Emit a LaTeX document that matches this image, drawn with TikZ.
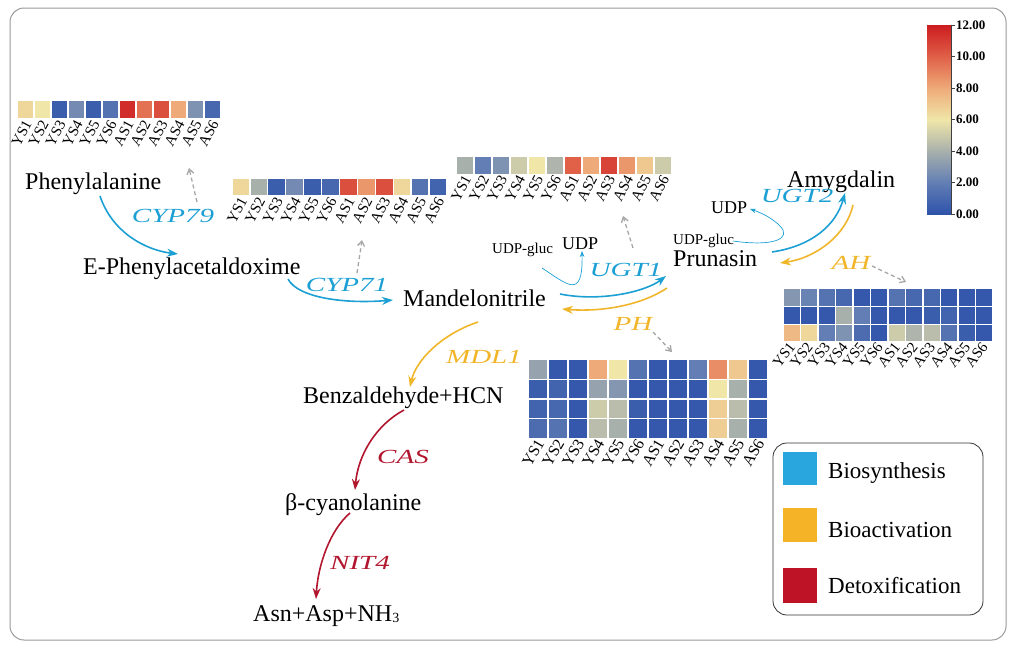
\documentclass[tikz,border=0pt]{standalone}
\usepackage{fontspec}
\setmainfont{Liberation Serif}
\usepackage{graphicx}
\usetikzlibrary{arrows.meta}
\definecolor{hm0}{RGB}{45,82,170}
\definecolor{hm1}{RGB}{98,126,180}
\definecolor{hm2}{RGB}{168,176,172}
\definecolor{hm3}{RGB}{240,230,168}
\definecolor{hm4}{RGB}{238,170,120}
\definecolor{hm5}{RGB}{224,96,72}
\definecolor{hm6}{RGB}{204,28,32}
\definecolor{cblue}{RGB}{28,160,212}
\definecolor{corange}{RGB}{241,181,42}
\definecolor{cred}{RGB}{178,22,46}
\definecolor{lblue}{RGB}{41,166,222}
\definecolor{lorange}{RGB}{245,180,40}
\definecolor{lred}{RGB}{190,18,38}
\newcommand\enzt[1]{\scalebox{1.45}[1]{\itshape #1}}
\newcommand\hrow[5]{%
  \foreach \v [count=\i from 0] in {#5}{%
    \pgfmathtruncatemacro\seg{min(floor(\v/2),5)}%
    \pgfmathtruncatemacro\nxt{\seg+1}%
    \pgfmathtruncatemacro\pct{round((\v-2*\seg)*50)}%
    \fill[hm\nxt!\pct!hm\seg, draw=white, line width=1.2pt] ({#1+\i*#3},#2) rectangle ++(#3,#4);}}
\newcommand\hlabels[6]{%
  \foreach \t [count=\i from 0] in {YS1,YS2,YS3,YS4,YS5,YS6,AS1,AS2,AS3,AS4,AS5,AS6}
    \node[lab, rotate=#5, font=\fontsize{#6}{#6}\selectfont] (#1-\i) at ({#2+(\i+0.5)*#4+2.5},{#3+2}) {\t};}
\tikzset{
  lab/.style={inner sep=0pt, anchor=east},
  enz/.style={inner sep=0pt, font=\fontsize{20}{22}\selectfont},
  met/.style={inner sep=0pt, font=\fontsize{24}{28}\selectfont, anchor=base west},
  small/.style={inner sep=0pt, anchor=base west},
  bio/.style={draw=cblue, line width=1.6pt, -{Stealth[length=11pt,width=8pt]}},
  act/.style={draw=corange, line width=1.6pt, -{Stealth[length=11pt,width=8pt]}},
  det/.style={draw=cred, line width=1.6pt, -{Stealth[length=11pt,width=8pt]}},
  side/.style={draw=cblue, line width=0.7pt, -{Stealth[length=6pt,width=4.5pt]}},
  pointer/.style={draw=black!35, dash pattern=on 4pt off 3pt, line width=1.3pt, -{Straight Barb[length=5pt,width=7pt]}},
  legtxt/.style={inner sep=0pt, anchor=base west, font=\fontsize{23}{26}\selectfont},
}
\begin{document}
\begin{tikzpicture}[x=1pt,y=-1pt]
\useasboundingbox (0,0) rectangle (1018,649);
\draw[black!40, line width=1pt, rounded corners=14pt] (10,8) rectangle (1006,640);

% heatmaps
\hrow{17}{100}{17}{19}{6.5,6,0.5,2.5,0.5,1.5,11.5,9.5,10.5,8,2.8,1}
\hlabels{la}{17}{119}{17}{62}{15}
\hrow{232}{178}{17.9}{18}{6.5,4,0.5,2.5,0.5,1,10.5,8.5,10.5,6.5,1.5,0.8}
\hlabels{lb}{232}{196}{17.9}{62}{15}
\hrow{456}{156}{18}{18.3}{4,2,2.8,5,6,4.2,10,8,10.8,8.5,7,5}
\hlabels{lc}{456}{174.3}{18}{62}{15}
\hrow{783}{288.5}{17.5}{17.8}{3,2.2,1.5,1,0.3,0.3,1.5,1,1,0.3,0.3,0.3}
\hrow{783}{306.3}{17.5}{17.8}{0.3,0.3,0.3,4,2,0.3,0.3,0.3,0.5,0.8,0.3,0.3}
\hrow{783}{324.1}{17.5}{17.8}{7.5,6.5,2,2.8,1.2,0.3,5,4.2,4.5,1.5,0.5,0.3}
\hlabels{ld}{781}{342}{17.5}{52}{15}
\hrow{528}{359.5}{20}{19.75}{3.5,0.3,0.3,8,6,1.5,0.3,0.3,2,8.8,7,0.3}
\hrow{528}{379.25}{20}{19.75}{0.5,0.8,0.3,3.5,3,0.3,0.3,0.3,0.3,6,4,0.3}
\hrow{528}{399}{20}{19.75}{0.8,1,0.3,5,4.5,0.5,0.3,0.3,0.3,6.8,4.5,0.3}
\hrow{528}{418.75}{20}{19.75}{1.2,1.5,0.3,4.5,4,0.3,0.3,0.3,0.3,6.8,4,0.3}
\hlabels{le}{528}{438.5}{20}{60}{16}

% colour bar
\foreach \k in {0,...,5}{%
  \pgfmathtruncatemacro\kk{\k+1}%
  \shade[bottom color=hm\k, top color=hm\kk] (927,{214-\k*31.5+0.3}) rectangle (951,{214-(\k+1)*31.5});}
\draw[black!75, line width=0.8pt] (951,25) -- (951,214);
\foreach \v/\t in {0/0.00,2/2.00,4/4.00,6/6.00,8/8.00,10/10.00,12/12.00}{%
  \draw[black!75, line width=0.8pt] (951,{214-\v*15.75}) -- (955,{214-\v*15.75});
  \node[inner sep=0pt, anchor=west, font=\fontsize{13}{13}\selectfont\bfseries] (cb\v) at (956,{214-\v*15.75}) {\t};}

% metabolites
\node[met] (phe) at (25,189) {Phenylalanine};
\node[met] (epa) at (83,274) {E-Phenylacetaldoxime};
\node[met] (man) at (403,306) {Mandelonitrile};
\node[met] (ben) at (303,403) {Benzaldehyde+HCN};
\node[met] (cya) at (285,510) {β-cyanolanine};
\node[met] (asn) at (253,621) {Asn+Asp+NH\raisebox{-0.05em}{\fontsize{14}{14}\selectfont 3}};
\node[met] (pru) at (673,266) {Prunasin};
\node[met] (amy) at (787,187) {Amygdalin};
\node[small, font=\fontsize{15}{16}\selectfont] (ug1) at (492,253) {UDP-gluc};
\node[small, font=\fontsize{18}{18}\selectfont] (ud1) at (562,249) {UDP};
\node[small, font=\fontsize{15}{16}\selectfont] (ug2) at (673,244) {UDP-gluc};
\node[small, font=\fontsize{18}{18}\selectfont] (ud2) at (711,213) {UDP};

% enzymes
\node[enz, text=cblue] (cyp79) at (173,216) {\enzt{CYP79}};
\node[enz, text=cblue] (cyp71) at (347,285) {\enzt{CYP71}};
\node[enz, text=cblue] (ugt1) at (626,270) {\enzt{UGT1}};
\node[enz, text=cblue] (ugt2) at (797,196) {\enzt{UGT2}};
\node[enz, text=corange] (ah) at (851,263) {\enzt{AH}};
\node[enz, text=corange] (ph) at (633,324) {\enzt{PH}};
\node[enz, text=corange] (mdl) at (484,357) {\enzt{MDL1}};
\node[enz, text=cred] (cas) at (403,457) {\enzt{CAS}};
\node[enz, text=cred] (nit) at (360,563) {\enzt{NIT4}};

% connector end points
\coordinate (a1) at (100,196); \coordinate (a2) at (178,254);
\coordinate (b1) at (288,279); \coordinate (b2) at (393,300);
\coordinate (c1) at (560,294); \coordinate (c2) at (666,276);
\coordinate (d1) at (667,288); \coordinate (d2) at (562,309);
\coordinate (e1) at (542,268); \coordinate (e2) at (582,251);
\coordinate (f1) at (772,252); \coordinate (f2) at (845,193);
\coordinate (g1) at (853,205); \coordinate (g2) at (780,263);
\coordinate (h1) at (733,241); \coordinate (h2) at (750,209);
\coordinate (i1) at (478,322); \coordinate (i2) at (410,387);
\coordinate (j1) at (404,410); \coordinate (j2) at (355,490);
\coordinate (k1) at (350,513); \coordinate (k2) at (316,599);

\draw[bio] (a1) .. controls (112,232) and (145,250) .. (a2);
\draw[bio] (b1) .. controls (298,298) and (345,304) .. (b2);
\draw[bio] (c1) .. controls (600,302) and (645,292) .. (c2);
\draw[act] (d1) .. controls (640,306) and (600,312) .. (d2);
\draw[side] (e1) .. controls (568,285) and (583,300) .. (e2);
\draw[bio] (f1) .. controls (812,246) and (836,225) .. (f2);
\draw[act] (g1) .. controls (846,236) and (815,258) .. (g2);
\draw[side] (h1) .. controls (775,247) and (792,238) .. (780,226) .. controls (772,218) and (762,213) .. (h2);
\draw[act] (i1) .. controls (442,334) and (416,360) .. (i2);
\draw[det] (j1) .. controls (376,425) and (358,455) .. (j2);
\draw[det] (k1) .. controls (330,530) and (318,565) .. (k2);

% dashed pointers to heat maps
\coordinate (p1) at (197,202); \coordinate (q1) at (189,168);
\coordinate (p2) at (357,273); \coordinate (q2) at (362,240);
\coordinate (p3) at (633,248); \coordinate (q3) at (623,216);
\coordinate (p4) at (872,266); \coordinate (q4) at (906,282);
\coordinate (p5) at (653,332); \coordinate (q5) at (672,352);
\foreach \n in {1,...,5} \draw[pointer] (p\n) -- (q\n);

% legend
\draw[black!80, line width=0.8pt, rounded corners=14pt] (773,443) rectangle (983,615);
\fill[lblue] (783,452) rectangle (817,485);
\fill[lorange] (783,508) rectangle (817,542);
\fill[lred] (783,568) rectangle (817,603);
\node[legtxt] (lg1) at (828,478) {Biosynthesis};
\node[legtxt] (lg2) at (828,537) {Bioactivation};
\node[legtxt] (lg3) at (828,593) {Detoxification};
\end{tikzpicture}
\end{document}
